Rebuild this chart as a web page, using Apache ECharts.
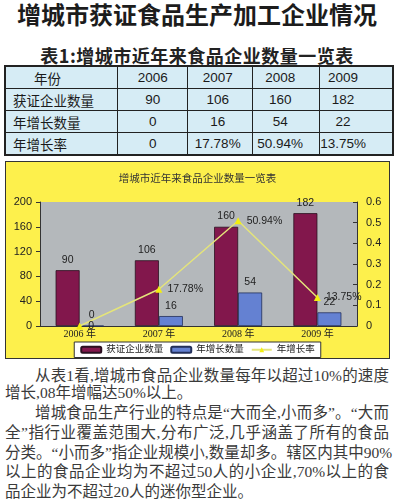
<!DOCTYPE html>
<html><head><meta charset="utf-8">
<script src="https://cdn.jsdelivr.net/npm/echarts@6/dist/echarts.min.js"></script>
<style>
html,body{margin:0;padding:0;background:#fff;width:394px;height:500px;overflow:hidden;position:relative;font-family:"Noto Sans CJK SC",sans-serif;}
#title{position:absolute;left:0;top:0;width:394px;text-align:center;font-size:24px;line-height:28px;font-weight:bold;color:#1c1c1c;}
#subtitle{position:absolute;left:0;top:45px;width:394px;text-align:center;font-size:18px;line-height:20px;font-weight:bold;color:#222;letter-spacing:0.5px;}
#tbl{position:absolute;left:4px;top:65px;border-collapse:collapse;font-family:"Liberation Sans","Noto Sans CJK SC",sans-serif;font-size:13.5px;color:#1a1a1a;table-layout:fixed;border:2px solid #222;}
#tbl td{border:1.5px solid #222;background:#d6ecf5;height:21px;padding:0;text-align:center;white-space:nowrap;}
#tbl td.rh{text-align:left;padding-left:7px;}
#tbl td.hh{text-align:left;padding-left:28px;}
#box{position:absolute;left:5px;top:161px;width:385px;height:198px;box-sizing:border-box;border:1px solid #333;background:#fdf04c;}
#chart{position:absolute;left:0;top:0;width:383px;height:196px;}
.pl{position:absolute;left:5px;width:384px;font-family:"Liberation Serif","Noto Sans CJK SC",serif;font-size:15.5px;line-height:20px;color:#3a3a3a;white-space:nowrap;text-align:justify;text-align-last:justify;}
.pl.ind{left:35px;width:354px;}
.pl.last{text-align-last:left;}
</style>
</head>
<body>
<div id="title">增城市获证食品生产加工企业情况</div>
<div id="subtitle">表1:增城市近年来食品企业数量一览表</div>
<table id="tbl"><colgroup><col style="width:113px"><col style="width:70px"><col style="width:65px"><col style="width:67px"><col style="width:72px"></colgroup><tbody id="tb"></tbody></table>
<div id="box"><div id="chart"></div></div>
<div class="pl ind" style="top:366px">从表1看,增城市食品企业数量每年以超过10%的速度</div>
<div class="pl last" style="top:383px">增长,08年增幅达50%以上。</div>
<div class="pl ind" style="top:403px">增城食品生产行业的特点是“大而全,小而多”。“大而</div>
<div class="pl" style="top:423px">全”指行业覆盖范围大,分布广泛,几乎涵盖了所有的食品</div>
<div class="pl" style="top:443px">分类。“小而多”指企业规模小,数量却多。辖区内其中90%</div>
<div class="pl" style="top:462px">以上的食品企业均为不超过50人的小企业,70%以上的食</div>
<div class="pl last" style="top:482px">品企业为不超过20人的迷你型企业。</div>
<script>
// ---- data ----
const years = ['2006', '2007', '2008', '2009'];
const categoryLabels = ['2006 年', '2007 年', '2008 年', '2009 年'];
const certified = [90, 106, 160, 182];        // 获证企业数量
const growthCount = [0, 16, 54, 22];           // 年增长数量
const growthRate = [0, 0.1778, 0.5094, 0.1375]; // 年增长率
const seriesNames = ['获证企业数量', '年增长数量', '年增长率'];
const headerLabel = '年份';
const chartTitle = '增城市近年来食品企业数量一览表';

function fmtRate(v) { return v === 0 ? '0' : (v * 100).toFixed(2) + '%'; }

// ---- table ----
const colPad = ['0', '0 5px 0 0', '0 12px 0 0', '0 26px 0 0'];
const tb = document.getElementById('tb');
function addRow(label, vals, cls) {
  const tr = document.createElement('tr');
  const th = document.createElement('td');
  th.className = cls; th.textContent = label; tr.appendChild(th);
  vals.forEach((v, i) => {
    const td = document.createElement('td');
    td.textContent = v; td.style.padding = colPad[i]; tr.appendChild(td);
  });
  tb.appendChild(tr);
}
addRow(headerLabel, years, 'hh');
addRow(seriesNames[0], certified.map(String), 'rh');
addRow(seriesNames[1], growthCount.map(String), 'rh');
addRow(seriesNames[2], growthRate.map(fmtRate), 'rh');

// ---- chart ----
const chart = echarts.init(document.getElementById('chart'), null, {renderer: 'canvas'});
const lbl = {show: true, position: 'top', distance: 5, fontSize: 10.5, color: '#222'};
chart.setOption({
  animation: false,
  textStyle: {fontFamily: '"Liberation Sans","Noto Sans CJK SC",sans-serif'},
  title: {text: chartTitle, left: 'center', top: 7,
    textStyle: {fontSize: 10.5, fontWeight: 'normal', color: '#333'}},
  legend: {top: 180, left: 'center', backgroundColor: '#fff', borderColor: '#333', borderWidth: 1,
    borderRadius: 0, padding: [3, 6], itemGap: 7, itemWidth: 20, itemHeight: 6,
    textStyle: {fontSize: 9.5, color: '#222'}, data: seriesNames},
  grid: {left: 34, right: 32, top: 40, bottom: 32, show: true, backgroundColor: '#b4b8bb', borderWidth: 0},
  xAxis: {type: 'category', data: categoryLabels,
    axisLine: {lineStyle: {color: '#333'}}, axisTick: {show: false},
    axisLabel: {fontFamily: '"Liberation Serif","Noto Sans CJK SC",serif', fontSize: 10, color: '#222', margin: 3}},
  yAxis: [
    {type: 'value', min: 0, max: 200, interval: 40,
      axisLine: {show: true, lineStyle: {color: '#333'}}, axisTick: {show: true, length: 4},
      splitLine: {show: false}, axisLabel: {fontSize: 11, color: '#222', margin: 8}},
    {type: 'value', min: 0, max: 0.6, interval: 0.1, position: 'right',
      axisLine: {show: true, lineStyle: {color: '#333'}}, axisTick: {show: true, inside: true, length: 4},
      splitLine: {show: false}, axisLabel: {fontSize: 11, color: '#222', margin: 9}}
  ],
  series: [
    {name: seriesNames[0], type: 'bar', data: certified, barWidth: 24, barGap: '0%',
      itemStyle: {color: '#82174c', borderColor: '#2a1020', borderWidth: 0.8}, label: lbl},
    {name: seriesNames[1], type: 'bar', data: growthCount, barWidth: 24,
      itemStyle: {color: '#6481d2', borderColor: '#23305a', borderWidth: 0.8}, label: lbl},
    {name: seriesNames[2], type: 'line', yAxisIndex: 1, data: growthRate, z: 5,
      symbol: 'triangle', symbolSize: 7,
      lineStyle: {color: '#e4e47a', width: 1.5}, itemStyle: {color: '#f2ee10'},
      label: {show: true, position: 'right', distance: 5, fontSize: 10.5, color: '#222',
        formatter: p => fmtRate(p.value)}}
  ]
});
</script>
</body></html>
